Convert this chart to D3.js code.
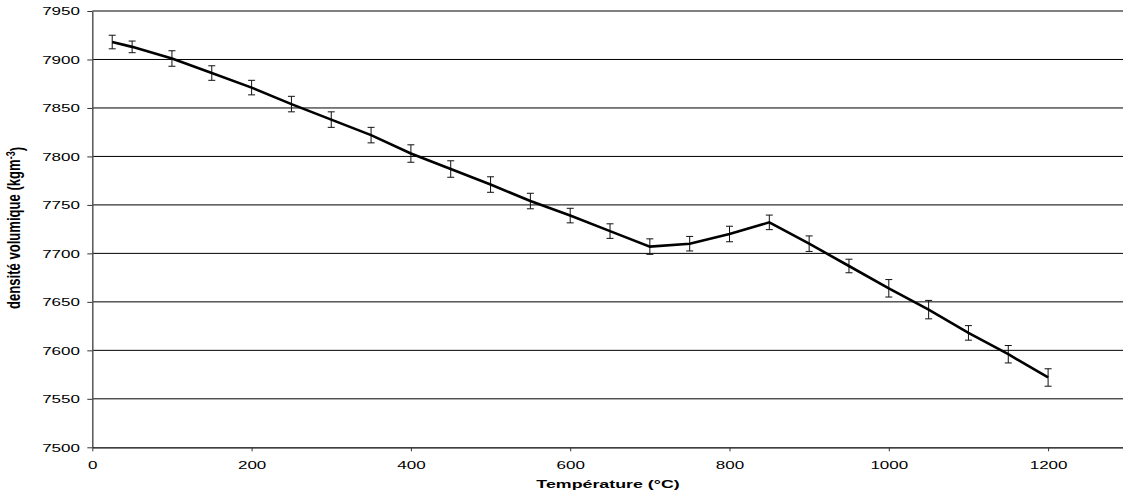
<!DOCTYPE html>
<html>
<head>
<meta charset="utf-8">
<script src="https://cdn.jsdelivr.net/npm/d3@7"></script>
<style>
  html, body { margin: 0; padding: 0; background: #fff; }
  svg { display: block; }
  text { font-family: "Liberation Sans", Arial, sans-serif; fill: #000; }
</style>
</head>
<body>
<svg id="chart" width="1123" height="494"></svg>
<script>
// ---- data ----
const temperatures = [25, 50, 100, 150, 200, 250, 300, 350, 400, 450, 500, 550, 600, 650, 700, 750, 800, 850, 900, 950, 1000, 1050, 1100, 1150, 1200];
const densities    = [7918, 7913, 7901, 7886, 7871, 7854, 7838, 7822, 7803, 7787, 7771, 7754, 7739, 7723, 7707, 7710, 7720, 7732, 7710, 7687, 7664, 7642, 7618, 7596, 7572];
const errors       = [7, 6, 8, 7.5, 7.5, 8, 8, 8, 9, 8.5, 8, 8, 7.5, 7.5, 8, 7.5, 8, 7.5, 8, 7, 9, 9.5, 7.5, 9, 9];
const xTicks = [0, 200, 400, 600, 800, 1000, 1200];
const yTicks = [7500, 7550, 7600, 7650, 7700, 7750, 7800, 7850, 7900, 7950];
const xTitle = "Température (°C)";
const yTitleMain = "densité volumique (kgm";
const yTitleSup = "-3";

const data = temperatures.map((t, i) => ({ t, d: densities[i], e: errors[i] }));

// ---- layout ----
const svg = d3.select("#chart");
const plotLeft = 92.3, plotTop = 11, plotBottom = 447.3;
const pxPerUnit = 0.7965;
const x = d3.scaleLinear().domain([0, 1300]).range([plotLeft, plotLeft + 1300 * pxPerUnit]);
const y = d3.scaleLinear().domain([7500, 7950]).range([plotBottom, plotTop]);
const stretch = 1.62;
const fmt = d3.format("d");

// gridlines
svg.append("g").selectAll("line").data(yTicks.filter(v => v !== 7500)).join("line")
  .attr("x1", plotLeft).attr("x2", 1123)
  .attr("y1", d => y(d)).attr("y2", d => y(d))
  .attr("stroke", "#000").attr("stroke-width", 1);

// y axis
const gy = svg.append("g").attr("transform", `translate(${plotLeft},0)`)
  .call(d3.axisLeft(y).tickValues(yTicks).tickFormat(fmt).tickSize(5).tickSizeOuter(0));
gy.select(".domain").attr("stroke", "#555").attr("stroke-width", 1.5);
gy.selectAll(".tick line").attr("stroke", "#333");
gy.selectAll(".tick text")
  .attr("x", 0).attr("dy", "0.36em")
  .attr("text-anchor", "end")
  .attr("transform", `translate(-12.3,0) scale(${stretch},1)`)
  .style("font-family", "'Liberation Sans', Arial, sans-serif")
  .style("font-size", "10.5px").attr("fill", "#000");

// x axis
const gx = svg.append("g").attr("transform", `translate(0,${plotBottom})`)
  .call(d3.axisBottom(x).tickValues(xTicks).tickFormat(fmt).tickSize(4).tickSizeOuter(0));
gx.select(".domain").attr("stroke", "#000").attr("stroke-width", 1.2);
gx.selectAll(".tick line").attr("stroke", "#333");
gx.selectAll(".tick text")
  .attr("y", 21.7).attr("dy", 0)
  .attr("text-anchor", "middle")
  .attr("transform", `scale(${stretch},1)`)
  .style("font-family", "'Liberation Sans', Arial, sans-serif")
  .style("font-size", "10.5px").attr("fill", "#000");

// error bars
const eb = svg.append("g").attr("stroke", "#111").attr("stroke-width", 1);
eb.selectAll("line.v").data(data).join("line").attr("class", "v")
  .attr("x1", d => x(d.t)).attr("x2", d => x(d.t))
  .attr("y1", d => y(d.d + d.e)).attr("y2", d => y(d.d - d.e));
eb.selectAll("line.t").data(data).join("line").attr("class", "t")
  .attr("x1", d => x(d.t) - 3.5).attr("x2", d => x(d.t) + 3.5)
  .attr("y1", d => y(d.d + d.e)).attr("y2", d => y(d.d + d.e));
eb.selectAll("line.b").data(data).join("line").attr("class", "b")
  .attr("x1", d => x(d.t) - 3.5).attr("x2", d => x(d.t) + 3.5)
  .attr("y1", d => y(d.d - d.e)).attr("y2", d => y(d.d - d.e));

// line
svg.append("path").datum(data)
  .attr("fill", "none").attr("stroke", "#000").attr("stroke-width", 2.6)
  .attr("stroke-linejoin", "miter")
  .attr("d", d3.line().x(d => x(d.t)).y(d => y(d.d)));

// x title
svg.append("text")
  .attr("transform", `translate(608,488) scale(${stretch},1)`)
  .attr("text-anchor", "middle")
  .style("font-size", "11px").style("font-weight", "bold")
  .text(xTitle);

// y title
const yt = svg.append("text")
  .attr("transform", `translate(20,228) scale(${stretch},1) rotate(-90)`)
  .attr("text-anchor", "middle")
  .attr("textLength", 162).attr("lengthAdjust", "spacingAndGlyphs")
  .style("font-size", "11px").style("font-weight", "bold");
yt.append("tspan").text(yTitleMain);
yt.append("tspan").attr("dy", "-0.45em").style("font-size", "7.5px").text(yTitleSup);
yt.append("tspan").attr("dy", "0.45em").text(")");
</script>
</body>
</html>
